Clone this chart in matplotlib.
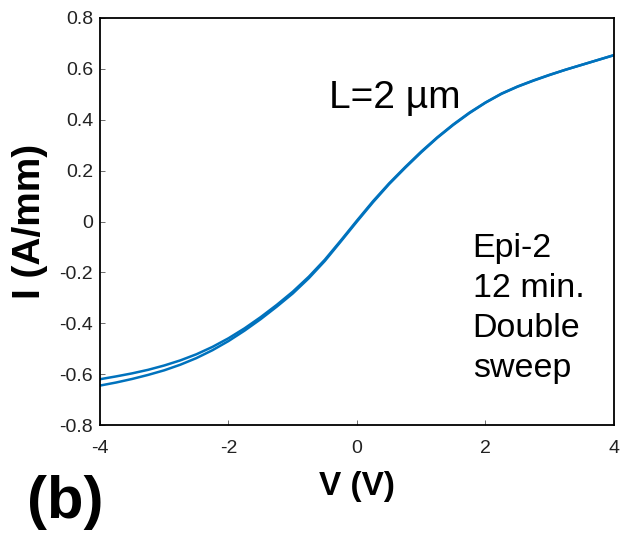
import matplotlib
matplotlib.use("Agg")
import matplotlib.pyplot as plt

plt.rcParams["font.family"] = ["Liberation Sans", "DejaVu Sans"]
plt.rcParams["axes.unicode_minus"] = False

# I-V double sweep, L = 2 um
V = [-4.0, -3.75, -3.5, -3.25, -3.0, -2.75, -2.5, -2.25, -2.0, -1.75, -1.5,
     -1.25, -1.0, -0.75, -0.5, -0.25, 0.0, 0.25, 0.5, 0.75, 1.0, 1.25, 1.5,
     1.75, 2.0, 2.25, 2.5, 2.75, 3.0, 3.25, 3.5, 3.75, 4.0]
I_fwd = [-0.620, -0.609, -0.597, -0.583, -0.566, -0.546, -0.522, -0.493,
         -0.459, -0.420, -0.376, -0.328, -0.276, -0.217, -0.150, -0.074,
         0.004, 0.080, 0.150, 0.214, 0.275, 0.331, 0.382, 0.428, 0.468,
         0.503, 0.531, 0.555, 0.577, 0.597, 0.616, 0.635, 0.654]
I_rev = [-0.645, -0.633, -0.619, -0.603, -0.585, -0.563, -0.537, -0.506,
         -0.470, -0.429, -0.384, -0.335, -0.283, -0.223, -0.155, -0.078,
         0.000, 0.076, 0.147, 0.211, 0.272, 0.329, 0.380, 0.426, 0.467,
         0.502, 0.530, 0.554, 0.576, 0.597, 0.616, 0.635, 0.654]

xticks = [-4, -2, 0, 2, 4]
xticklabels = ["-4", "-2", "0", "2", "4"]
yticks = [-0.8, -0.6, -0.4, -0.2, 0, 0.2, 0.4, 0.6, 0.8]
yticklabels = ["-0.8", "-0.6", "-0.4", "-0.2", "0", "0.2", "0.4", "0.6", "0.8"]

fig = plt.figure(figsize=(6.22, 5.33), dpi=100)
ax = fig.add_axes([100 / 622, 1 - 425 / 533, 514 / 622, 407 / 533])

blue = "#0072BD"
ax.plot(V, I_fwd, color=blue, lw=1.8)
ax.plot(V, I_rev, color=blue, lw=1.8)

ax.set_xlim(-4, 4)
ax.set_ylim(-0.8, 0.8)
ax.set_xticks(xticks)
ax.set_xticklabels(xticklabels)
ax.set_yticks(yticks)
ax.set_yticklabels(yticklabels)
ax.tick_params(direction="in", length=3.5, width=0.6, color="#555555",
               labelsize=14, labelcolor="#222222")
ax.tick_params(axis="x", pad=11)
ax.tick_params(axis="y", pad=5)
for s in ax.spines.values():
    s.set_linewidth(1.3)

ax.set_xlabel("V (V)", fontsize=24, fontweight="bold", labelpad=10)
ax.set_ylabel("I (A/mm)", fontsize=28, fontweight="bold", labelpad=8)

ax.text(-0.44, 0.445, "L=2 µm", fontsize=28)
ax.text(1.8, -0.045, "Epi-2\n12 min.\nDouble\nsweep", fontsize=24.5,
        va="top", ha="left", linespacing=1.38)

fig.text(27 / 622, 1 - 502 / 533, "(b)", fontsize=43, fontweight="bold",
         va="center", ha="left")

fig.savefig("out.png", dpi=100)
